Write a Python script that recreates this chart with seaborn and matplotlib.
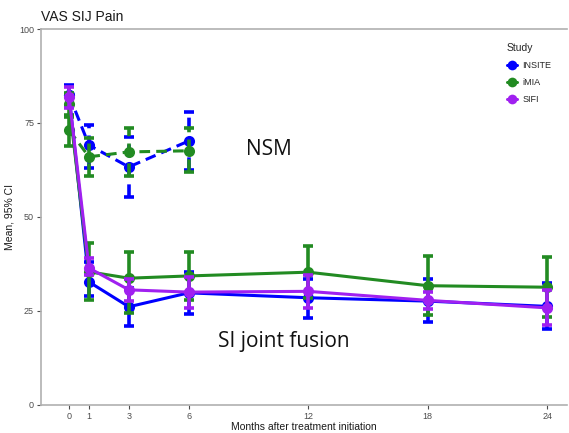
import pandas as pd
import matplotlib
matplotlib.use("Agg")
import matplotlib.pyplot as plt
import seaborn as sns
from matplotlib.lines import Line2D

sns.set_theme(style="white")
plt.rcParams['font.family'] = ['Liberation Sans', 'DejaVu Sans']

# Fusion arm (solid lines)
months_fusion = [0, 1, 3, 6, 12, 18, 24]
insite_fus = [82.4, 32.7, 26.1, 29.8, 28.5, 27.6, 26.2]
insite_fus_lo = [79.5, 29.0, 21.0, 24.2, 23.0, 22.0, 20.2]
insite_fus_hi = [85.0, 38.0, 31.0, 35.4, 33.5, 33.5, 32.4]
imia_fus = [80.0, 35.4, 33.7, 34.3, 35.3, 31.7, 31.3]
imia_fus_lo = [76.5, 27.9, 24.5, 27.9, 28.5, 24.0, 23.4]
imia_fus_hi = [83.0, 43.0, 40.7, 40.7, 42.3, 39.7, 39.4]
sifi_fus = [82.0, 36.4, 30.6, 30.0, 30.2, 27.8, 25.8]
sifi_fus_lo = [79.0, 34.5, 27.5, 25.8, 25.8, 25.5, 21.3]
sifi_fus_hi = [84.5, 39.0, 33.5, 34.0, 34.5, 30.0, 30.5]

# Non-surgical management (dashed lines)
months_nsm = [0, 1, 3, 6]
insite_nsm = [82.4, 69.1, 63.3, 70.2]
insite_nsm_lo = [79.5, 63.0, 55.3, 62.5]
insite_nsm_hi = [84.8, 74.5, 71.3, 78.0]
imia_nsm = [73.1, 66.0, 67.3, 67.6]
imia_nsm_lo = [69.0, 61.0, 61.0, 62.0]
imia_nsm_hi = [77.0, 71.0, 73.7, 73.7]

studies = ["INSITE", "iMIA", "SIFI"]
colors = {"INSITE": "#0000FF", "iMIA": "#228B22", "SIFI": "#A020F0"}

series = [
    ("INSITE", "NSM", months_nsm, insite_nsm, insite_nsm_lo, insite_nsm_hi),
    ("iMIA", "NSM", months_nsm, imia_nsm, imia_nsm_lo, imia_nsm_hi),
    ("INSITE", "Fusion", months_fusion, insite_fus, insite_fus_lo, insite_fus_hi),
    ("iMIA", "Fusion", months_fusion, imia_fus, imia_fus_lo, imia_fus_hi),
    ("SIFI", "Fusion", months_fusion, sifi_fus, sifi_fus_lo, sifi_fus_hi),
]

rows = []
for study, arm, m, mean, lo, hi in series:
    for x, y, l, h in zip(m, mean, lo, hi):
        rows.append({"Study": study, "Arm": arm, "month": x, "mean": y, "lo": l, "hi": h})
df = pd.DataFrame(rows)

fig = plt.figure(figsize=(5.69, 4.33), dpi=100)
ax = fig.add_axes([0.072, 0.065, 0.925, 0.868])

for study, arm, m, mean, lo, hi in series:
    sub = df[(df.Study == study) & (df.Arm == arm)]
    ls = (0, (3.5, 2)) if arm == "NSM" else "-"
    c = colors[study]
    ax.errorbar(sub["month"], sub["mean"],
                yerr=[sub["mean"] - sub["lo"], sub["hi"] - sub["mean"]],
                fmt="none", ecolor=c, elinewidth=2.6, capsize=3.5, capthick=2.6)
    eb = ax.containers[-1]
    for coll in eb.lines[2]:
        coll.set_linestyle(ls)
    sns.lineplot(data=sub, x="month", y="mean", ax=ax, color=c, linestyle=ls,
                 linewidth=2.2, marker="o", markersize=8, markeredgewidth=0,
                 legend=False, errorbar=None)

ax.set_xlim(-1.41, 25.0)
ax.set_ylim(0, 100)
ax.set_xticks(months_fusion)
ax.set_yticks([0, 25, 50, 75, 100])
ax.tick_params(axis="both", colors="#4d4d4d", labelsize=6.5, length=3,
               width=0.8, direction="out", bottom=True, left=True, pad=2)
for s in ["left", "bottom", "top"]:
    ax.spines[s].set_color("#b0b0b0")
    ax.spines[s].set_linewidth(1.2)
ax.spines["right"].set_visible(False)

ax.set_xlabel("Months after treatment initiation", fontsize=7.5, color="#1a1a1a", labelpad=1)
ax.set_ylabel("Mean, 95% CI", fontsize=7.5, color="#1a1a1a", labelpad=3)
ax.set_title("VAS SIJ Pain", loc="left", x=0.0, fontsize=10, color="#1a1a1a", pad=6)

ax.text(8.9, 66.5, "NSM", fontsize=15, family=["Open Sans", "DejaVu Sans"], color="#111111")
ax.text(7.45, 15.5, "SI joint fusion", fontsize=15, family=["Open Sans", "DejaVu Sans"], color="#111111")

handles = [Line2D([0], [0], color=colors[s], marker="o", markersize=7, linewidth=2.2,
                  markeredgewidth=0) for s in studies]
leg = ax.legend(handles, studies, title="Study", loc="upper left",
                bbox_to_anchor=(0.87, 0.985), frameon=False, fontsize=6.5,
                title_fontsize=7.5, handlelength=1.1, handletextpad=0.6,
                labelspacing=0.9)
leg._legend_box.align = "left"

fig.savefig("out.png", dpi=100)
